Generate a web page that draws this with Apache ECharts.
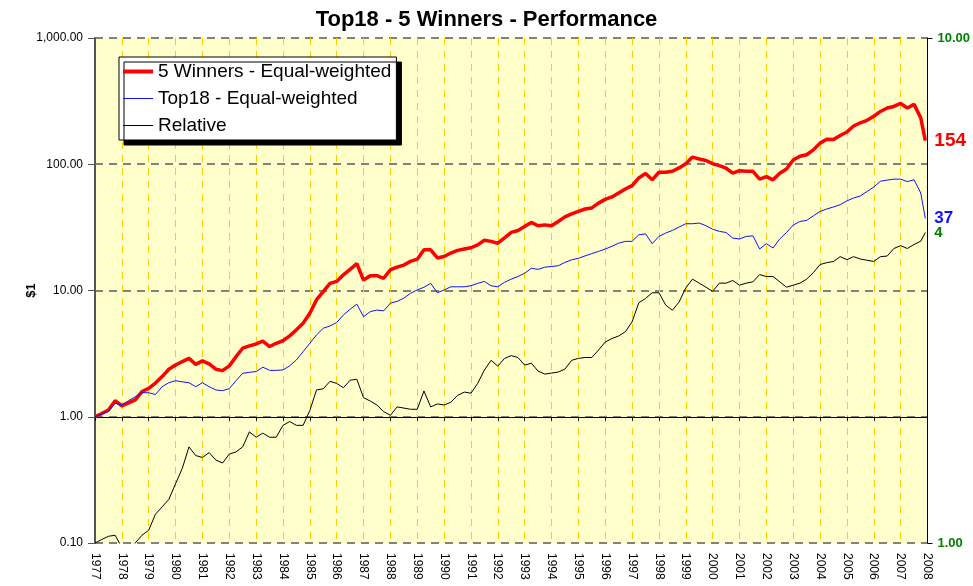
<!DOCTYPE html>
<html>
<head>
<meta charset="utf-8">
<script src="https://cdn.jsdelivr.net/npm/echarts@6/dist/echarts.min.js"></script>
<style>
  html, body { margin: 0; padding: 0; background: #fff; }
  #chart { width: 973px; height: 586px; }
</style>
</head>
<body>
<div id="chart"></div>
<script>
var title = 'Top18 - 5 Winners - Performance';
var names = ['5 Winners - Equal-weighted', 'Top18 - Equal-weighted', 'Relative'];

// quarterly, last point is the latest month
var dates = [];
for (var y = 1977; y <= 2007; y++) {
  dates.push(y, y + 0.25, y + 0.5, y + 0.75);
}
dates.push(2007.92);

var winners = [
  1.0, 1.06, 1.13, 1.34,   1.22, 1.29, 1.36, 1.58,   1.68, 1.85, 2.08, 2.38,
  2.57, 2.73, 2.9, 2.6,    2.77, 2.62, 2.38, 2.32,   2.53, 2.99, 3.49, 3.64,
  3.77, 3.97, 3.6, 3.82,   4.0, 4.37, 4.88, 5.5,     6.6, 8.45, 9.8, 11.4,
  11.8, 13.3, 14.7, 16.3,  12.1, 13.1, 13.1, 12.5,   14.6, 15.3, 15.9, 17.0,
  17.7, 21.0, 21.0, 18.1,  18.6, 19.8, 20.8, 21.3,   21.8, 23.0, 25.0, 24.5,
  23.7, 26.1, 28.9, 29.9,  32.2, 34.6, 32.6, 33.1,   32.6, 35.2, 38.3, 40.5,
  42.3, 44.2, 45.1, 49.2,  52.7, 55.1, 59.2, 63.6,   67.7, 77.9, 84.4, 75.3,
  86.4, 86.4, 88.0, 93.5,  101, 114, 110, 107,       101, 97.6, 93, 85,
  89, 88, 88, 76.2,        79.8, 75.3, 85, 91.7,     108, 115.7, 119, 130,
  147, 158, 157, 169,      180, 201, 213, 223,       240, 262, 279, 287,
  303, 279, 298, 233,      154
];

var top18 = [
  1.0, 1.05, 1.1, 1.28,    1.24, 1.34, 1.44, 1.55,   1.55, 1.5, 1.73, 1.86,
  1.93, 1.89, 1.86, 1.73,  1.86, 1.73, 1.63, 1.61,   1.67, 1.93, 2.21, 2.25,
  2.28, 2.47, 2.33, 2.33,  2.35, 2.53, 2.82, 3.28,   3.82, 4.45, 5.02, 5.24,
  5.57, 6.4, 7.1, 7.8,     6.2, 6.8, 7.0, 6.9,       7.94, 8.2, 8.7, 9.5,
  10.1, 10.6, 11.4, 9.6,   10.1, 10.7, 10.7, 10.7,   10.9, 11.4, 11.8, 10.9,
  10.7, 11.6, 12.3, 12.9,  13.7, 15.0, 14.7, 15.3,   15.5, 15.7, 16.7, 17.5,
  18.0, 18.8, 19.6, 20.4,  21.3, 22.4, 23.7, 24.5,   24.5, 27.6, 28.1, 23.5,
  26.8, 28.5, 29.9, 31.8,  33.8, 33.8, 34.2, 32.6,   30.6, 29.4, 28.8, 26,
  25.6, 26.8, 27.1, 21.3,  23.5, 21.7, 25.6, 28.8,   33.0, 35.2, 35.9, 39.0,
  42.3, 44.2, 45.9, 47.8,  51.3, 54.0, 56.1, 60.9,   66.0, 73.4, 74.9, 76.2,
  76.2, 72.8, 75.3, 59.2,  37.2
];

var relative = [
  1.0, 1.016, 1.031, 1.036,  0.98, 0.96, 1.0, 1.036,   1.06, 1.14, 1.179, 1.22,
  1.31, 1.405, 1.55, 1.49,   1.477, 1.51, 1.46, 1.44,  1.50, 1.515, 1.55, 1.66,
  1.62, 1.65, 1.62, 1.62,    1.71, 1.74, 1.71, 1.71,   1.83, 2.01, 2.02, 2.09,
  2.07, 2.03, 2.1, 2.11,     1.94, 1.91, 1.876, 1.82,  1.79, 1.86, 1.85, 1.84,
  1.84, 2.0, 1.86, 1.885,    1.876, 1.90, 1.96, 1.99,  1.98, 2.07, 2.2, 2.3,
  2.24, 2.32, 2.35, 2.33,    2.25, 2.27, 2.19, 2.16,   2.17, 2.18, 2.21, 2.30,
  2.32, 2.33, 2.33, 2.41,    2.50, 2.54, 2.57, 2.62,   2.74, 2.99, 3.05, 3.13,
  3.13, 2.96, 2.89, 3.0,     3.20, 3.33, 3.27, 3.21,   3.15, 3.27, 3.27, 3.31,
  3.24, 3.27, 3.29, 3.4,     3.37, 3.37, 3.29, 3.21,   3.24, 3.27, 3.33, 3.43,
  3.56, 3.59, 3.61, 3.69,    3.64, 3.69, 3.65, 3.63,   3.61, 3.69, 3.70, 3.83,
  3.88, 3.83, 3.90, 3.96,    4.12
];

var font = 'Liberation Sans, Arial, sans-serif';
var gridTop = 38, gridBottom = 43, chartHeight = 586;
var plotHeight = chartHeight - gridTop - gridBottom;

function pairs(values) {
  return values.map(function(v, i) {
    return [dates[i], v];
  });
}

function money(v) {
  return Number(v).toLocaleString('en-US', {minimumFractionDigits: 2, maximumFractionDigits: 2});
}

function endLabel(color, size) {
  return {
    show: true,
    distance: 9,
    color: color,
    fontFamily: font,
    fontWeight: 'bold',
    fontSize: size,
    formatter: function(p) {
      return Math.round(p.value[1]);
    }
  };
}

var chart = echarts.init(document.getElementById('chart'));

chart.setOption({
  animation: false,
  backgroundColor: '#fff',
  title: {
    text: title,
    left: 'center',
    top: 4,
    textStyle: {fontFamily: font, fontSize: 22, fontWeight: 'bold', color: '#000'}
  },
  legend: {
    data: [
      {name: names[0], icon: 'path://M0,0H30V4H0Z'},
      {name: names[1], icon: 'path://M0,0H30V1H0Z'},
      {name: names[2], icon: 'path://M0,0H30V1H0Z'}
    ],
    orient: 'vertical',
    left: 119,
    top: 57,
    padding: [5, 5, 5, 4],
    itemGap: 8,
    itemWidth: 30,
    itemHeight: 14,
    backgroundColor: '#fff',
    borderColor: '#000',
    borderWidth: 1,
    borderRadius: 0,
    shadowColor: '#000',
    shadowBlur: 0,
    shadowOffsetX: 5,
    shadowOffsetY: 5,
    textStyle: {fontFamily: font, fontSize: 19, color: '#000'}
  },
  grid: {
    left: 95,
    right: 44,
    top: gridTop,
    bottom: gridBottom,
    show: true,
    backgroundColor: '#ffffcc',
    borderWidth: 0
  },
  xAxis: [{
    type: 'value',
    min: 1977,
    max: 2008,
    interval: 1,
    axisLine: {show: false},
    axisTick: {show: false},
    axisLabel: {
      rotate: -90,
      margin: 10,
      fontFamily: font,
      fontSize: 12,
      color: '#000',
      formatter: function(v) { return String(v); }
    },
    splitLine: {
      show: true,
      lineStyle: {color: '#ffcc00', width: 1, type: [7, 6]}
    }
  }, {
    // the category axis crosses at 1.00
    type: 'value',
    min: 1977,
    max: 2008,
    interval: 1,
    position: 'bottom',
    offset: -plotHeight / 4,
    axisLine: {show: true, lineStyle: {color: '#000', width: 1}},
    axisTick: {show: true, length: 4, lineStyle: {color: '#000'}},
    axisLabel: {show: false},
    splitLine: {show: false}
  }],
  yAxis: [{
    type: 'log',
    logBase: 10,
    min: 0.1,
    max: 1000,
    name: '$1',
    nameLocation: 'middle',
    nameRotate: 90,
    nameGap: 57,
    nameMoveOverlap: false,
    nameTextStyle: {fontFamily: font, fontSize: 13, fontWeight: 'bold', color: '#000'},
    axisLine: {show: true, lineStyle: {color: '#555', width: 2}},
    axisTick: {show: true, length: 7, lineStyle: {color: '#555'}},
    axisLabel: {fontFamily: font, fontSize: 12, color: '#000', margin: 12, formatter: money},
    splitLine: {
      show: true,
      lineStyle: {color: '#5a5a5a', width: 1.5, type: [8, 6]}
    }
  }, {
    type: 'log',
    logBase: 10,
    min: 1,
    max: 10,
    position: 'right',
    axisLine: {show: true, lineStyle: {color: '#000', width: 1}},
    axisTick: {show: true, length: 5, lineStyle: {color: '#000'}},
    axisLabel: {fontFamily: font, fontSize: 13, fontWeight: 'bold', color: '#008000', margin: 10, formatter: money},
    splitLine: {show: false}
  }],
  series: [{
    name: names[0],
    type: 'line',
    yAxisIndex: 0,
    symbol: 'none',
    data: pairs(winners),
    lineStyle: {color: '#ff0000', width: 3.5},
    itemStyle: {color: '#ff0000'},
    endLabel: endLabel('#ff0000', 19)
  }, {
    name: names[1],
    type: 'line',
    yAxisIndex: 0,
    symbol: 'none',
    data: pairs(top18),
    lineStyle: {color: '#1010ff', width: 1},
    itemStyle: {color: '#1010ff'},
    endLabel: endLabel('#1010ff', 17)
  }, {
    name: names[2],
    type: 'line',
    yAxisIndex: 1,
    symbol: 'none',
    data: pairs(relative),
    lineStyle: {color: '#000', width: 1},
    itemStyle: {color: '#000'},
    endLabel: endLabel('#008000', 15)
  }]
});
</script>
</body>
</html>
